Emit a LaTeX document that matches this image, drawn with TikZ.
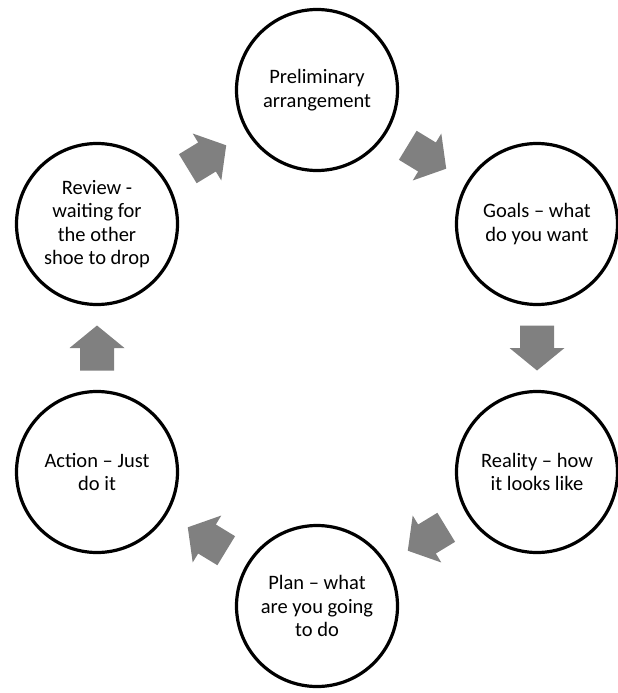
\documentclass[tikz,border=0pt]{standalone}
\usepackage{fontspec}
\setmainfont{Carlito}
\usetikzlibrary{calc}
\definecolor{arrowgray}{RGB}{128,128,128}
\tikzset{
  stage/.style={circle, draw=black, line width=3.2pt, minimum size=161pt, inner sep=0pt,
    align=center, font=\fontsize{20.5}{23.5}\selectfont, text=black}
}
\newcommand\blockarrow[2]{%
  \pgfmathanglebetweenpoints{\pgfpointanchor{#1}{center}}{\pgfpointanchor{#2}{center}}%
  \let\barang\pgfmathresult
  \begin{scope}[shift={($(#1)!0.5!(#2)$)}, rotate=\barang]
    \fill[arrowgray] (-22.5,-17) -- (0,-17) -- (0,-27.5) -- (22.5,0) -- (0,27.5) -- (0,17) -- (-22.5,17) -- cycle;
  \end{scope}}
\begin{document}
\begin{tikzpicture}[x=1pt,y=-1pt]
\useasboundingbox (0,0) rectangle (618,693);
\node[stage] (pre) at (317,90) {Preliminary\\arrangement};
\node[stage] (goals) at (537,224) {Goals – what\\do you want};
\node[stage] (real) at (537,472) {Reality – how\\it looks like};
\node[stage] (plan) at (317,606) {Plan – what\\are you going\\to do};
\node[stage] (act) at (97,472) {Action – Just\\do it};
\node[stage] (rev) at (97,224) {Review -\\waiting for\\the other\\shoe to drop};
\blockarrow{rev}{pre}
\blockarrow{pre}{goals}
\blockarrow{goals}{real}
\blockarrow{real}{plan}
\blockarrow{plan}{act}
\blockarrow{act}{rev}
\end{tikzpicture}
\end{document}
